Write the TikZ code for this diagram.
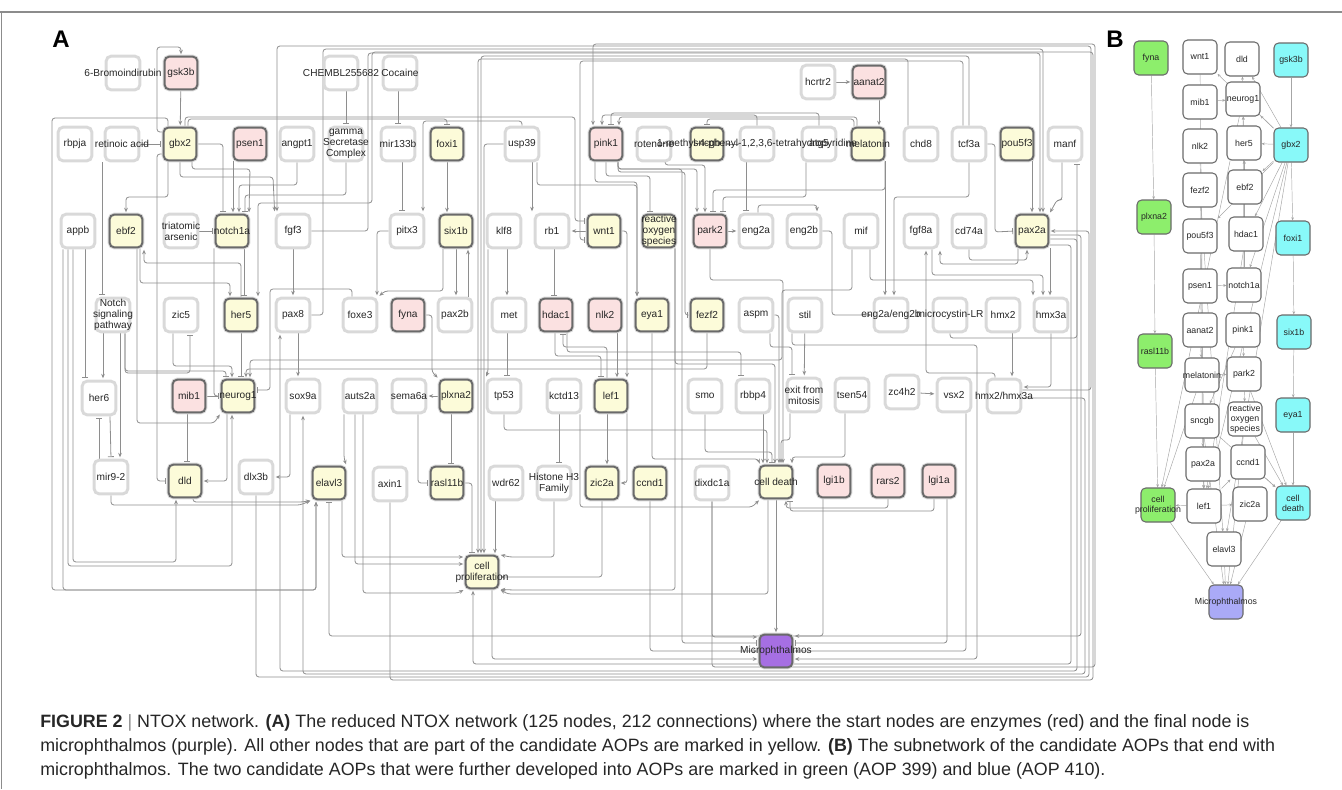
\documentclass[tikz,border=0pt]{standalone}
\usepackage{fontspec}
\setmainfont{Liberation Sans}
\usetikzlibrary{arrows.meta,backgrounds,calc}
\definecolor{lgray}{HTML}{D9D9D9}
\definecolor{dgray}{HTML}{6A6A6A}
\definecolor{pinkF}{HTML}{FBE1E1}
\definecolor{yelF}{HTML}{FCFBD9}
\definecolor{purF}{HTML}{A66FE3}
\definecolor{edg}{HTML}{8E8E8E}
\definecolor{grnF}{HTML}{8DEE6C}
\definecolor{cyaF}{HTML}{88F9F9}
\definecolor{lavF}{HTML}{AAAAF7}
\tikzset{
 box/.style={rounded corners=3.8pt, minimum width=25.3pt, minimum height=25.3pt, inner sep=0pt},
 na/.style={box, draw=lgray, line width=2.2pt, fill=white},
 cbox/.style={rounded corners=3.6pt, minimum width=24.6pt, minimum height=24.6pt, inner sep=0pt, draw=dgray, line width=1.5pt, preaction={draw=lgray, line width=3pt}},
 nr/.style={cbox, fill=pinkF},
 ny/.style={cbox, fill=yelF},
 np/.style={cbox, fill=purF},
 lab/.style={font=\fontsize{7.6}{8.4}\selectfont, inner sep=0pt, align=center, text=black!85},
 bbox/.style={rounded corners=3.5pt, minimum width=25.5pt, minimum height=25.5pt, inner sep=0pt, draw=dgray, line width=0.8pt},
 bw/.style={bbox, fill=white},
 bg/.style={bbox, fill=grnF},
 bc/.style={bbox, fill=cyaF},
 bl/.style={bbox, fill=lavF},
 blab/.style={font=\fontsize{6.6}{7.4}\selectfont, inner sep=0pt, align=center, text=black!85},
 ed/.style={draw=edg, line width=0.6pt, rounded corners=2.2pt},
 ar/.style={ed, -{Stealth[length=3.4pt,width=2.8pt]}, shorten >=1pt},
 tb/.style={ed, -{Bar[width=4.5pt]}, shorten >=1.2pt},
 eb/.style={draw=black!35, line width=0.35pt, -{Stealth[length=2.4pt,width=2pt]}},
 captxt/.style={font=\fontsize{13.4}{15}\selectfont, inner sep=0pt, text=black!85},
}
\newcommand\nd[5]{\node[#1] (#2) at (#3,#4) {}; \node[lab] (#2t) at (#2) {#5};}
\newcommand\nb[5]{\node[#1] (#2) at (#3,#4) {}; \node[blab] (#2t) at (#2) {#5};}
\begin{document}
\begin{tikzpicture}[x=0.75pt,y=-0.75pt]
\useasboundingbox (0,0) rectangle (1342,789);
\draw[black!45, line width=0.8pt] (0,12) -- (1342,12);
\draw[black!45, line width=0.8pt] (1.5,12) -- (1.5,789);
\node[font=\fontsize{18}{18}\bfseries, anchor=base west, inner sep=0pt] (labA) at (52,47) {A};
\node[font=\fontsize{18}{18}\bfseries, anchor=base west, inner sep=0pt] (labB) at (1106,47) {B};
% ---------------- Panel A nodes
\nd{na}{bromo}{123}{73}{6-Bromoindirubin}
\nd{nr}{gsk3b}{181}{73}{gsk3b}
\nd{na}{chembl}{341}{73}{CHEMBL255682}
\nd{na}{cocaine}{400}{73}{Cocaine}
\nd{na}{hcrtr2}{818}{82}{hcrtr2}
\nd{nr}{aanat2}{869}{82}{aanat2}
\nd{na}{rbpja}{75}{144}{rbpja}
\nd{na}{retinoic}{122}{144}{retinoic acid}
\nd{ny}{gbx2}{180}{144}{gbx2}
\nd{nr}{psen1}{250}{144}{psen1}
\nd{na}{angpt1}{297}{144}{angpt1}
\nd{na}{gamma}{346}{144}{gamma\\Secretase\\Complex}
\nd{na}{mir133b}{398}{144}{mir133b}
\nd{ny}{foxi1}{447}{144}{foxi1}
\nd{na}{usp39}{522}{144}{usp39}
\nd{nr}{pink1}{606}{144}{pink1}
\nd{na}{rotenone}{654}{144}{rotenone}
\nd{ny}{sncgb}{707}{144}{sncgb}
\nd{na}{atg5}{819}{144}{atg5}
\nd{ny}{melatonin}{868}{144}{melatonin}
\nd{na}{chd8}{921}{144}{chd8}
\nd{na}{tcf3a}{969}{144}{tcf3a}
\nd{ny}{pou5f3}{1017}{144}{pou5f3}
\nd{na}{manf}{1065}{144}{manf}
\nd{na}{appb}{78}{231}{appb}
\nd{ny}{ebf2}{126}{231}{ebf2}
\nd{na}{arsenic}{181}{231}{triatomic\\arsenic}
\nd{ny}{notch1a}{232}{231}{notch1a}
\nd{na}{fgf3}{293}{231}{fgf3}
\nd{na}{pitx3}{407}{231}{pitx3}
\nd{ny}{six1b}{456}{231}{six1b}
\nd{na}{klf8}{504}{231}{klf8}
\nd{na}{rb1}{552}{231}{rb1}
\nd{ny}{wnt1}{604}{231}{wnt1}
\nd{ny}{ros}{659}{231}{reactive\\oxygen\\species}
\nd{nr}{park2}{710}{231}{park2}
\nd{na}{eng2a}{756}{231}{eng2a}
\nd{na}{eng2b}{804}{231}{eng2b}
\nd{na}{mif}{861}{231}{mif}
\nd{na}{fgf8a}{921}{231}{fgf8a}
\nd{na}{cd74a}{969}{231}{cd74a}
\nd{ny}{pax2a}{1032}{231}{pax2a}
\nd{na}{notch}{113}{315}{Notch\\signaling\\pathway}
\nd{na}{zic5}{181}{315}{zic5}
\nd{ny}{her5}{241}{315}{her5}
\nd{na}{pax8}{293}{315}{pax8}
\nd{na}{foxe3}{360}{315}{foxe3}
\nd{nr}{fyna}{408}{315}{fyna}
\nd{na}{pax2b}{455}{315}{pax2b}
\nd{na}{met}{509}{315}{met}
\nd{nr}{hdac1}{556}{315}{hdac1}
\nd{nr}{nlk2}{605}{315}{nlk2}
\nd{ny}{eya1}{652}{315}{eya1}
\nd{ny}{fezf2}{707}{315}{fezf2}
\nd{na}{aspm}{756}{315}{aspm}
\nd{na}{stil}{805}{315}{stil}
\nd{na}{eng2ab}{891}{315}{eng2a/eng2b}
\nd{na}{microcystin}{950}{315}{microcystin-LR}
\nd{na}{hmx2}{1003}{315}{hmx2}
\nd{na}{hmx3a}{1051}{315}{hmx3a}
\nd{na}{her6}{99}{398}{her6}
\nd{nr}{mib1}{189}{396}{mib1}
\nd{ny}{neurog1}{238}{396}{neurog1}
\nd{na}{sox9a}{303}{396}{sox9a}
\nd{na}{auts2a}{360}{396}{auts2a}
\nd{na}{sema6a}{409}{396}{sema6a}
\nd{ny}{plxna2}{456}{396}{plxna2}
\nd{na}{tp53}{504}{396}{tp53}
\nd{na}{kctd13}{564}{396}{kctd13}
\nd{ny}{lef1}{611}{396}{lef1}
\nd{na}{smo}{705}{396}{smo}
\nd{na}{rbbp4}{753}{396}{rbbp4}
\nd{na}{exitmit}{804}{395}{exit from\\mitosis}
\nd{na}{tsen54}{852}{395}{tsen54}
\nd{na}{zc4h2}{902}{392}{zc4h2}
\nd{na}{vsx2}{954}{395}{vsx2}
\nd{na}{hmx23}{1004}{396}{hmx2/hmx3a}
\nd{na}{mir92}{111}{477}{mir9-2}
\nd{ny}{dld}{185}{481}{dld}
\nd{na}{dlx3b}{256}{477}{dlx3b}
\nd{ny}{elavl3}{329}{483}{elavl3}
\nd{na}{axin1}{390}{484}{axin1}
\nd{ny}{rasl11b}{447}{483}{rasl11b}
\nd{na}{wdr62}{506}{483}{wdr62}
\nd{na}{histone}{554}{483}{Histone H3\\Family}
\nd{ny}{zic2a}{602}{483}{zic2a}
\nd{ny}{ccnd1}{650}{483}{ccnd1}
\nd{na}{dixdc1a}{712}{483}{dixdc1a}
\nd{ny}{celldeath}{776}{482}{cell death}
\nd{nr}{lgi1b}{834}{481}{lgi1b}
\nd{nr}{rars2}{888}{481}{rars2}
\nd{nr}{lgi1a}{939}{481}{lgi1a}
\nd{ny}{cellprolif}{482}{572}{cell\\proliferation}
\nd{np}{micro}{776}{651}{Microphthalmos}
\nd{na}{mptp}{757}{144}{1-methyl-4-phenyl-1,2,3,6-tetrahydropyridine}

\begin{scope}[on background layer]
\draw[ar] (gsk3b) -- (gbx2);
\draw[ar] ($(gbx2.west)+(0,-12)$) -| (157,47) -| (gsk3b.north);
\draw[ar] ($(gbx2.north)+(-12,0)$) |- (52,118) |- (316,590) -- ($(elavl3.south)+(-13,0)$);
\draw[tb] (retinoic) -- (gbx2);
\draw[tb] ($(chembl.south)+(5,0)$) -- (gamma.north);
\draw[tb] ($(cocaine.south)+(-2,0)$) -- (mir133b.north);
\draw[tb] ($(mir133b.south)+(4,0)$) -- ($(pitx3.north)+(-5,0)$);
\draw[ar] (foxi1.south) -- ($(six1b.north)+(-9,0)$);
\draw[ar] (hcrtr2) -- (aanat2);
\draw[ar] ($(aanat2.south)+(10,0)$) -- ($(melatonin.north)+(11,0)$);
\draw[tb] ($(gbx2.north)+(8,0)$) |- (447,119) -- (foxi1.north);
\draw[tb] ($(gbx2.north)+(5,0)$) |- (575,117) |- ($(wnt1.west)+(0,-10)$);
\draw[ar] (usp39.north) |- (423,121) -- ($(pitx3.north)+(16,0)$);
\draw[ar] (usp39.west) -| ($(cellprolif.north)+(2,0)$);
\draw[ar] ($(usp39.south)+(10,0)$) -- ($(rb1.north)+(-20,0)$);
\draw[ar] ($(usp39.south)+(15,0)$) |- (637,185) -- ($(eya1.north)+(-15,0)$);
\draw[ar] ($(chd8.north)+(-13,0)$) |- (478,59) -- ($(cellprolif.north)+(-4,0)$);
\draw[ar] (tcf3a.north) |- (481,56) -- ($(cellprolif.north)+(-1,0)$);
\draw[tb] ($(tcf3a.north)+(-6,0)$) |- (580,61) |- ($(wnt1.west)+(0,9)$);
\draw[ar] (axin1.south) |- (1093,680) |- (372,52) |- (258,203) -- ($(her5.north)+(17,0)$);
\draw[ar] (dlx3b.south) |- (1089,677) |- (pax2a.east);
\draw[ar] ($(pax2a.east)+(0,8)$) -| (1077,671) -| ($(pax8.south)+(-13,0)$);
\draw[ar] ($(hmx23.east)+(0,2)$) -| (1085,674) -| (sox9a.south);
\draw[tb] ($(pax2a.east)+(0,4)$) -| (1081,636) -| (elavl3.south);
\draw[ar] ($(hmx23.east)+(0,-6)$) -| (1091,46) -| ($(fgf3.north)+(-16,0)$);
\draw[ar] (fgf3.east) -| (368,53) -| ($(pax2a.north)+(8,0)$);
\draw[ar] (pax8.east) -| (323,49) -| ($(pax2a.north)+(11,0)$);
\draw[ar] (dixdc1a.south) |- (1095,667) |- (593,44) -- ($(pink1.north)+(-13,0)$);
\draw[tb] (microcystin.south) |- (1077,338) -- ($(manf.south)+(12,0)$);
\draw[ar] ($(stil.south)+(-13,0)$) |- (977,345) |- ($(micro.east)+(0,8)$);
\draw[ar] ($(lgi1b.south)+(-11,0)$) |- ($(micro.east)+(0,-15)$);
\draw[tb] ($(lgi1a.south)+(8,0)$) |- ($(micro.east)+(0,-8)$);
\draw[ar] ($(vsx2.south)+(12,0)$) |- (micro.east);
\draw[ar] (zc4h2) -- (vsx2);
\draw[ar] ($(tsen54.south)+(-7,0)$) |- (792,457) -- ($(celldeath.north)+(16,0)$);
\draw[ar] (rars2.south) |- (786,508) -- ($(celldeath.south)+(10,0)$);
\draw[tb] ($(lgi1a.south)+(-5,0)$) |- (790,511) -- ($(celldeath.south)+(14,0)$);
\draw[ar] (celldeath) -- (micro);
\draw[ar] ($(celldeath.south)+(-8,0)$) |- (508,594) -- (cellprolif.south east);
\draw[ar] ($(kctd13.south)+(16,0)$) |- (752,507) -- ($(celldeath.south)+(-16,0)$);
\draw[ar] (tp53.south) |- (767,430) -- ($(celldeath.north)+(-9,0)$);
\draw[ar] (eya1.south) |- (758,459) -- ($(celldeath.north)+(-16,0)$);
\draw[tb] (smo.south) |- (772,452) -- ($(celldeath.north)+(-4,0)$);
\draw[ar] ($(rbbp4.south)+(10,0)$) -- ($(celldeath.north)+(-13,0)$);
\draw[ar] ($(exitmit.south)+(-14,0)$) |- (781,440) -- ($(celldeath.north)+(5,0)$);
\draw[ar] (aspm.east) -| ($(celldeath.north)+(3,0)$);
\draw[ar] (park2.south) |- (783,280) -- ($(celldeath.north)+(7,0)$);
\draw[ar] ($(ros.south)+(16,0)$) |- (775,364) -- ($(celldeath.north)+(-1,0)$);
\draw[ar] ($(ros.south)+(16,0)$) |- (514,590) -- (cellprolif.south east);
\draw[tb] ($(aspm.south)+(14,0)$) |- (792,347) -- ($(exitmit.north)+(-12,0)$);
\draw[ar] (stil) -- (exitmit);
\draw[tb] ($(hdac1.south)+(11,0)$) |- (741,352) -- ($(rbbp4.north)+(-12,0)$);
\draw[tb] ($(rb1.south)+(2,0)$) -- ($(hdac1.north)+(-2,0)$);
\draw[ar] (wnt1) -- (rb1);
\draw[ar] (wnt1.east) -| ($(lef1.north)+(16,0)$);
\draw[ar] ($(nlk2.south)+(12,0)$) -- ($(lef1.north)+(6,0)$);
\draw[tb] ($(hdac1.south)+(-1,0)$) |- (601,356) -- ($(lef1.north)+(-10,0)$);
\draw[tb] ($(lef1.north)+(-4,0)$) |- (563,347) -- ($(hdac1.south)+(7,0)$);
\draw[ar] ($(lef1.south)+(-4,0)$) -- ($(zic2a.north)+(5,0)$);
\draw[ar] ($(lef1.south)+(16,0)$) |- (zic2a.east);
\draw[ar] (zic2a.south) |- ($(cellprolif.east)+(0,5)$);
\draw[ar] (ccnd1.south) |- (micro.west);
\draw[ar] (dixdc1a.south) |- ($(micro.west)+(0,-14)$);
\draw[tb] ($(pink1.south)+(12,0)$) |- (682,169) |- ($(micro.west)+(0,-8)$);
\draw[ar] ($(pink1.south)+(12,0)$) |- (697,169) -- ($(park2.north)+(-13,0)$);
\draw[tb] ($(pink1.south)+(12,0)$) |- (685,172) |- (fezf2.west);
\draw[ar] ($(pink1.south)+(-11,0)$) |- (637,182) -- ($(eya1.north)+(-15,0)$);
\draw[tb] (pink1.south) |- (650,176) -- ($(ros.north)+(-9,0)$);
\draw[ar] ($(rotenone.south)+(11,0)$) |- (705,165) -- ($(park2.north)+(-5,0)$);
\draw[tb] ($(melatonin.south)+(17,0)$) |- (713,190) -- ($(park2.north)+(3,0)$);
\draw[tb] ($(atg5.south)+(-13,0)$) |- (723,197) -- ($(park2.north)+(13,0)$);
\draw[ar] (mptp.north) |- (602,115) -- ($(pink1.north)+(-4,0)$);
\draw[ar] ($(melatonin.north)+(-11,0)$) |- (619,117) -- ($(pink1.north)+(13,0)$);
\draw[tb] ($(melatonin.north)+(-14,0)$) |- (707,119) -- (sncgb.north);
\draw[tb] (atg5.north) |- (611,113) -- ($(pink1.north)+(5,0)$);
\draw[ar] (mptp) -- (sncgb);
\draw[ar] (park2) -- (eng2a);
\draw[tb] ($(mptp.south)+(-11,0)$) -- ($(eng2a.north)+(-10,0)$);
\draw[ar] ($(eng2a.north)+(2,0)$) |- (817,205) -- ($(eng2b.north)+(13,0)$);
\draw[ar] (eng2b.east) -| (832,315) -- (eng2ab.west);
\draw[ar] (tcf3a.south) |- (894,197) -- ($(eng2ab.north)+(3,0)$);
\draw[ar] ($(melatonin.south)+(17,0)$) -- ($(eng2ab.north)+(-6,0)$);
\draw[ar] ($(mif.south)+(9,0)$) |- (1033,280) -- ($(hmx3a.north)+(-18,0)$);
\draw[ar] ($(mif.south)+(-9,0)$) |- (782,290) |- (250,360) -- ($(neurog1.north)+(12,0)$);
\draw[ar] (fezf2.south) |- (246,369) -- ($(neurog1.north)+(8,0)$);
\draw[ar] ($(fgf8a.south)+(11,0)$) |- (1043,275) -- ($(hmx3a.north)+(-8,0)$);
\draw[ar] (cd74a.south) |- (1027,260) -- ($(pax2a.south)+(-5,0)$);
\draw[ar] ($(pax2a.south)+(-14,0)$) |- (940,264) -- ($(fgf8a.south)+(19,0)$);
\draw[ar] ($(pax2a.south)+(18,0)$) -- ($(hmx3a.north)+(-1,0)$);
\draw[ar] (hmx3a.south) |- ($(hmx23.east)+(0,-9)$);
\draw[ar] ($(hmx2.south)+(9,0)$) -- ($(hmx23.north)+(8,0)$);
\draw[ar] ($(hmx23.north)+(-9,0)$) |- (926,373) -- ($(fgf8a.south)+(5,0)$);
\draw[tb] (tcf3a.east) -| (995,232) -- (pax2a.west);
\draw[ar] ($(pou5f3.south)+(15,0)$) -- (pax2a.north);
\draw[ar] ($(manf.south)+(-3,0)$) |- (1057,200) -- (pax2a.north east);
\draw[tb] (gbx2.east) -| ($(notch1a.north)+(-9,0)$);
\draw[ar] ($(psen1.south)+(-17,0)$) -- ($(notch1a.north)+(1,0)$);
\draw[ar] (angpt1.south) |- (239,185) -- ($(notch1a.north)+(7,0)$);
\draw[tb] (gamma.south) |- (245,195) -- ($(notch1a.north)+(13,0)$);
\draw[ar] ($(gbx2.south)+(12,0)$) |- (250,169) -- ($(notch1a.north)+(17,0)$);
\draw[ar] (gbx2.south) |- (273,177) -- (fgf3.north west);
\draw[ar] ($(gbx2.south)+(-12,0)$) |- (126,197) -- (ebf2.north);
\draw[tb] ($(gbx2.west)+(0,10)$) -| (157,481) -- (dld.west);
\draw[tb] (arsenic) -- (notch1a);
\draw[ar] ($(ebf2.south)+(14,0)$) |- (230,283) -- ($(her5.north)+(-11,0)$);
\draw[ar] (her5.north) |- (144,263) -- ($(ebf2.south)+(18,0)$);
\draw[ar] ($(ebf2.south)+(11,0)$) |- (214,423) -- (neurog1.south west);
\draw[tb] ($(notch1a.south)+(12,0)$) -- ($(her5.north)+(3,0)$);
\draw[tb] ($(notch1a.south)+(-18,0)$) |- (neurog1.west);
\draw[tb] (her5.south) -- ($(neurog1.north)+(3,0)$);
\draw[tb] ($(notch.south)+(12,0)$) |- (226,371) -- ($(neurog1.north)+(-12,0)$);
\draw[tb] ($(notch.south)+(12,0)$) |- (190,373) -- ($(zic5.south)+(9,0)$);
\draw[ar] ($(zic5.south)+(-8,0)$) |- (232,366) -- ($(neurog1.north)+(-6,0)$);
\draw[ar] ($(notch.south)+(-10,0)$) -- ($(her6.north)+(4,0)$);
\draw[tb] ($(retinoic.south)+(-20,0)$) -- ($(notch.north)+(-11,0)$);
\draw[tb] ($(appb.south)+(7,0)$) -- ($(her6.north)+(-14,0)$);
\draw[ar] ($(appb.south)+(-10,0)$) |- (232,566) -- ($(neurog1.south)+(-6,0)$);
\draw[ar] ($(appb.south)+(-5,0)$) |- (176,562) -- ($(dld.south)+(-9,0)$);
\draw[ar] ($(appb.south)+(-15,0)$) |- (316,590) -- ($(elavl3.south)+(-13,0)$);
\draw[tb] ($(mir92.north)+(-12,0)$) -- (her6.south);
\draw[tb] ($(her6.south)+(11,0)$) -- (mir92.north);
\draw[ar] ($(notch.south)+(7,0)$) -- ($(mir92.north)+(9,0)$);
\draw[ar] (mir92.south) |- (300,505) -- (elavl3.south west);
\draw[ar] ($(dld.south)+(8,0)$) |- (302,502) -- (elavl3.south west);
\draw[tb] ($(mib1.south)+(-2,0)$) -- ($(dld.north)+(2,0)$);
\draw[tb] (mib1) -- (neurog1);
\draw[ar] ($(neurog1.south)+(-11,0)$) |- (dld.east);
\draw[ar] ($(sox9a.south)+(-13,0)$) |- (dlx3b.east);
\draw[ar] ($(pax8.south)+(5,0)$) -- ($(sox9a.north)+(-5,0)$);
\draw[ar] (fgf3) -- (pax8);
\draw[ar] (pitx3.west) -| ($(foxe3.north)+(17,0)$);
\draw[ar] ($(six1b.south)+(-13,0)$) |- (385,291) -- (foxe3.north east);
\draw[tb] ($(foxe3.north)+(-8,0)$) |- (270,289) |- ($(neurog1.east)+(0,-6)$);
\draw[ar] (six1b.south) -- ($(pax2b.north)+(1,0)$);
\draw[ar] ($(pax2b.north)+(13,0)$) -- ($(six1b.south)+(12,0)$);
\draw[ar] ($(klf8.south)+(3,0)$) -- ($(met.north)+(-2,0)$);
\draw[tb] ($(met.south)+(-2,0)$) -- ($(tp53.north)+(3,0)$);
\draw[ar] ($(klf8.south)+(-16,0)$) -- (488,372) -- (tp53.north west);
\draw[ar] (fyna.east) -| (432,372) -- (plxna2.north west);
\draw[ar] (plxna2) -- (sema6a);
\draw[tb] ($(sema6a.south)+(9,0)$) |- (rasl11b.west);
\draw[tb] ($(plxna2.south)+(-5,0)$) -- ($(rasl11b.north)+(4,0)$);
\draw[tb] (rasl11b.east) -| ($(cellprolif.north)+(-10,0)$);
\draw[ar] ($(wdr62.south)+(-11,0)$) -- ($(cellprolif.north)+(13,0)$);
\draw[ar] (histone.south) |- (510,557) -- (cellprolif.north east);
\draw[tb] ($(kctd13.south)+(-5,0)$) -- ($(histone.north)+(5,0)$);
\draw[ar] ($(elavl3.south)+(13,0)$) |- ($(cellprolif.west)+(0,-15)$);
\draw[ar] ($(auts2a.south)+(-16,0)$) -- (344,458) -- (elavl3.north east);
\draw[ar] ($(auts2a.south)+(-5,0)$) |- ($(cellprolif.west)+(0,-8)$);
\draw[ar] ($(auts2a.south)+(3,0)$) |- (458,593) -- (cellprolif.south west);
\draw[ar] ($(cellprolif.south)+(10,0)$) |- ($(micro.west)+(0,8)$);
\draw[ar] ($(pax2a.east)+(0,14)$) -| (1071,664) -| ($(cellprolif.south)+(-9,0)$);
\end{scope}

% ---------------- Panel B nodes
\nb{bg}{bfyna}{1151}{58}{fyna}
\nb{bw}{bwnt}{1200}{57}{wnt1}
\nb{bw}{bdld}{1242}{59}{dld}
\nb{bc}{bgsk}{1291}{60}{gsk3b}
\nb{bw}{bmib}{1200}{102}{mib1}
\nb{bw}{bneurog}{1243}{99}{neurog1}
\nb{bw}{bnlk}{1200}{146}{nlk2}
\nb{bw}{bher}{1244}{143}{her5}
\nb{bc}{bgbx}{1291}{145}{gbx2}
\nb{bw}{bfezf}{1200}{190}{fezf2}
\nb{bw}{bebf}{1245}{187}{ebf2}
\nb{bg}{bplx}{1154}{217}{plxna2}
\nb{bw}{bpou}{1200}{236}{pou5f3}
\nb{bw}{bhdac}{1246}{234}{hdac1}
\nb{bc}{bfoxi}{1293}{238}{foxi1}
\nb{bw}{bpsen}{1200}{286}{psen1}
\nb{bw}{bnotch}{1244}{285}{notch1a}
\nb{bw}{baanat}{1200}{330}{aanat2}
\nb{bw}{bpink}{1243}{330}{pink1}
\nb{bc}{bsix}{1294}{332}{six1b}
\nb{bg}{brasl}{1155}{351}{rasl11b}
\nb{bw}{bmel}{1202}{375}{melatonin}
\nb{bw}{bpark}{1244}{374}{park2}
\nb{bc}{beya}{1293}{415}{eya1}
\nb{bw}{bsncgb}{1202}{421}{sncgb}
\nb{bw}{bros}{1245}{419}{reactive\\oxygen\\species}
\nb{bw}{bpax}{1203}{464}{pax2a}
\nb{bw}{bccnd}{1248}{462}{ccnd1}
\nb{bg}{bcp}{1158}{505}{cell\\proliferation}
\nb{bw}{blef}{1204}{506}{lef1}
\nb{bw}{bzic}{1250}{504}{zic2a}
\nb{bc}{bcd}{1293}{503}{cell\\death}
\nb{bw}{belavl}{1224}{549}{elavl3}
\nb{bl}{bmicro}{1226}{602}{Microphthalmos}

\begin{scope}[on background layer]
\foreach \a/\b in {bfyna/bplx, bplx/brasl, brasl/bcp, bcp/bmicro, bgsk/bgbx, bgbx/bfoxi, bfoxi/bsix, bsix/beya, beya/bcd, bcd/bmicro,
  bgbx/bher, bgbx/bneurog, bgbx/bdld, bgbx/bwnt, bgbx/bebf, bgbx/bnotch, bgbx/bhdac, bgbx/belavl, bgbx/blef, bgbx/bpou,
  bneurog/bdld, bmib/bneurog, bher/bneurog, bebf/bher, bnotch/bher, bnotch/bneurog, bpsen/bnotch, bhdac/blef, bnlk/blef, bwnt/blef,
  baanat/bmel, bmel/bpark, bpink/bpark, bpark/bros, bros/bcd, bpark/bcd, bsncgb/bcd, bpink/bsncgb, blef/bcp, blef/bzic,
  bpou/bpax, bpax/blef, bsncgb/bmicro, bros/bmicro, belavl/bmicro, bzic/bmicro, bfezf/belavl, bmel/bcp, bccnd/bcd, blef/bccnd, bneurog/bcp}
  \draw[eb] (\a) -- (\b);
\end{scope}

\node[captxt, anchor=base west] (cap1) at (40,727) {\textbf{FIGURE 2} {\color{black!45}|} NTOX network. \textbf{(A)} The reduced NTOX network (125 nodes, 212 connections) where the start nodes are enzymes (red) and the final node is};
\node[captxt, anchor=base west] (cap2) at (40,751) {microphthalmos (purple). All other nodes that are part of the candidate AOPs are marked in yellow. \textbf{(B)} The subnetwork of the candidate AOPs that end with};
\node[captxt, anchor=base west] (cap3) at (40,775) {microphthalmos. The two candidate AOPs that were further developed into AOPs are marked in green (AOP 399) and blue (AOP 410).};
\end{tikzpicture}
\end{document}
